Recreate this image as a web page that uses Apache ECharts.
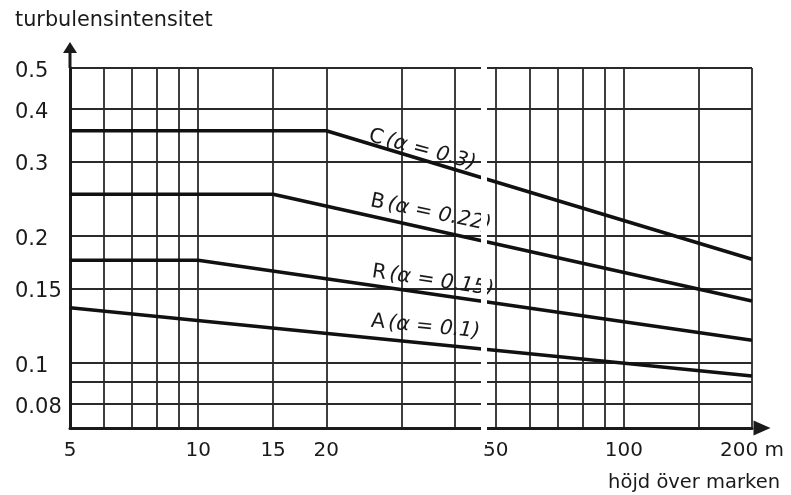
<!DOCTYPE html>
<html>
<head>
<meta charset="utf-8">
<script src="https://cdn.jsdelivr.net/npm/echarts@6/dist/echarts.min.js"></script>
<style>
  html, body { margin: 0; padding: 0; background: #fff; }
  #chart { width: 791px; height: 495px; }
</style>
</head>
<body>
<div id="chart"></div>
<script>
// höjd över marken (m) och turbulensintensitet per terrängklass
const classNames = ["C", "B", "R", "A"];
const alphas = ["0.3", "0.22", "0.15", "0.1"];
const cHeight = [5, 20, 200];
const cValue = [0.355, 0.355, 0.176];
const bHeight = [5, 15, 200];
const bValue = [0.251, 0.251, 0.14];
const rHeight = [5, 10, 200];
const rValue = [0.175, 0.175, 0.113];
const aHeight = [5, 200];
const aValue = [0.135, 0.093];

// var etiketterna sitter (i datakoordinater) och deras lutning
const labelHeight = [33.6, 35.2, 35.6, 34.2];
const labelValue = [0.32, 0.2266, 0.1564, 0.1217];
const labelRotate = [-15, -11.5, -8.5, -5.5];

// rutnät och axeltexter
const xGrid = [5, 6, 7, 8, 9, 10, 15, 20, 30, 40, 50, 60, 70, 80, 90, 100, 150, 200];
const xLabels = [5, 10, 15, 20, 50, 100, 200];
const yGrid = [0.08, 0.09, 0.1, 0.15, 0.2, 0.3, 0.4, 0.5];
const yLabels = [0.08, 0.1, 0.15, 0.2, 0.3, 0.4, 0.5];

const heights = [cHeight, bHeight, rHeight, aHeight];
const values = [cValue, bValue, rValue, aValue];

const ink = "#1a1a1a";
const font = "DejaVu Sans";

const myChart = echarts.init(document.getElementById("chart"));

const option = {
  animation: false,
  backgroundColor: "#fff",
  title: [
    {
      text: "turbulensintensitet",
      left: 10,
      top: 5,
      textStyle: { fontFamily: font, fontSize: 20.8, fontWeight: "normal", color: ink },
    },
    {
      text: "höjd över marken",
      right: 6,
      top: 468,
      textStyle: { fontFamily: font, fontSize: 19.5, fontWeight: "normal", color: ink },
    },
  ],
  grid: { left: 70, right: 39, top: 68, bottom: 67 },
  xAxis: {
    type: "log",
    logBase: 10,
    min: 5,
    max: 200,
    axisLine: {
      show: true,
      symbol: ["none", "triangle"],
      symbolSize: [15, 17],
      symbolOffset: [0, 10],
      lineStyle: { color: ink, width: 3 },
    },
    axisTick: { show: false, customValues: xGrid },
    splitLine: { show: true, lineStyle: { color: "#2a2a2a", width: 1.8 } },
    axisLabel: {
      customValues: xLabels,
      margin: 13,
      fontFamily: font,
      fontSize: 20,
      color: ink,
      formatter: (v) => (Math.round(v) === 200 ? "200 m" : String(Math.round(v))),
    },
  },
  yAxis: {
    type: "log",
    logBase: 10,
    min: 0.07,
    max: 0.5,
    axisLine: {
      show: true,
      symbol: ["none", "path://M7,0 L14,11 L8.5,11 L8.5,26 L5.5,26 L5.5,11 L0,11 Z"],
      symbolSize: [14, 26],
      symbolOffset: [0, 13],
      lineStyle: { color: ink, width: 3 },
    },
    axisTick: { show: false, customValues: yGrid },
    splitLine: { show: true, lineStyle: { color: "#2a2a2a", width: 1.8 } },
    axisLabel: {
      customValues: yLabels,
      align: "left",
      margin: 55,
      color: ink,
      formatter: (v) => "{v|" + String(+v.toFixed(2)) + "}",
      rich: {
        v: { fontFamily: font, fontSize: 21, color: ink, padding: [7, 0, 0, 0] },
      },
    },
  },
  series: classNames.map((name, i) => ({
    name: name,
    type: "line",
    symbol: "none",
    data: heights[i].map((h, k) => [h, values[i][k]]),
    lineStyle: { color: "#111", width: 3.6 },
    markPoint: {
      symbol: "circle",
      symbolSize: 1,
      itemStyle: { color: "transparent" },
      data: [
        {
          coord: [labelHeight[i], labelValue[i]],
          label: {
            show: true,
            position: "inside",
            rotate: labelRotate[i],
            formatter: "{n|" + name + "} {i|(α = " + alphas[i] + ")}",
            rich: {
              n: { fontFamily: font, fontSize: 20.5, color: ink },
              i: { fontFamily: font, fontSize: 20.5, fontStyle: "italic", color: ink },
            },
          },
        },
      ],
    },
  })),
  // skanningens vita glipa genom diagrammet
  graphic: [
    {
      type: "rect",
      shape: { x: 481, y: 60, width: 6, height: 385 },
      style: { fill: "#fff" },
      z: 100,
    },
  ],
};

myChart.setOption(option);
</script>
</body>
</html>
